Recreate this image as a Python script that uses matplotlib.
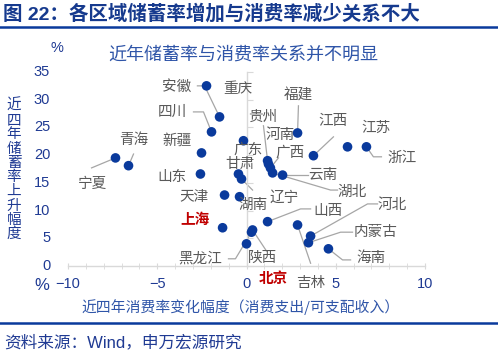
import matplotlib
matplotlib.use('Agg')
import matplotlib.pyplot as plt
import matplotlib.transforms as mtransforms
from matplotlib.lines import Line2D
from matplotlib.ticker import MultipleLocator

plt.rcParams['font.family'] = ['Noto Sans CJK SC', 'DejaVu Sans']

# ---------------- data ----------------
provinces = ['重庆', '安徽', '四川', '新疆', '青海', '宁夏', '山东', '天津', '辽宁', '上海',
             '陕西', '黑龙江', '北京', '广东', '福建', '贵州', '河南', '广西', '湖北', '云南',
             '甘肃', '湖南', '江西', '江苏', '浙江', '山西', '吉林', '河北', '内蒙古', '海南']
consumption_change = [-2.24, -1.51, -1.96, -2.52, -6.61, -7.34, -2.58, -1.23, -0.39, -1.34,
                      0.34, 0.28, 0.00, -0.17, 2.86, 1.18, 1.23, 1.34, 1.46, 2.02,
                      -0.45, -0.28, 3.75, 5.66, 6.72, 1.18, 2.86, 3.59, 3.47, 4.59]
savings_change = [32.5, 26.9, 24.2, 20.4, 18.1, 19.5, 16.6, 12.8, 12.5, 6.9,
                  6.5, 6.1, 4.0, 22.6, 24.0, 19.0, 18.4, 17.7, 16.8, 16.4,
                  16.6, 15.7, 19.9, 21.5, 21.5, 8.0, 7.4, 5.4, 4.2, 3.1]
highlight = ['上海', '北京']

xticks = [-10, -5, 0, 5, 10]
yticks = [0, 5, 10, 15, 20, 25, 30, 35]

title = '图 22：各区域储蓄率增加与消费率减少关系不大'
chart_title = '近年储蓄率与消费率关系并不明显'
xlabel = '近四年消费率变化幅度（消费支出/可支配收入）'
ylabel = '近四年储蓄率上升幅度'
source = '资料来源：Wind，申万宏源研究'

# label placement (data coords) and leader-line elbows
label_pos = {
    '重庆': (-0.50, 32.0), '安徽': (-3.92, 32.3), '四川': (-4.15, 27.8), '新疆': (-3.87, 22.6),
    '青海': (-6.33, 22.8), '宁夏': (-8.63, 14.8), '山东': (-4.15, 16.1), '天津': (-2.97, 12.5),
    '辽宁': (2.13, 12.3), '上海': (-2.86, 8.5), '陕西': (0.90, 1.4), '黑龙江': (-2.58, 1.4),
    '北京': (1.51, -2.2), '广东': (0.11, 21.0), '福建': (2.91, 30.7), '贵州': (0.90, 26.9),
    '河南': (1.90, 23.7), '广西': (2.46, 20.4), '湖北': (5.94, 13.4), '云南': (4.26, 16.4),
    '甘肃': (-0.39, 18.4), '湖南': (0.39, 11.0), '江西': (4.87, 26.2), '江苏': (7.23, 24.9),
    '浙江': (8.74, 19.5), '山西': (4.54, 9.9), '吉林': (3.59, -3.1), '河北': (8.18, 11.0),
    '内蒙古': (7.23, 6.1), '海南': (6.95, 1.4),
}
leaders = {
    '安徽': [(-2.75, 32.5), (-2.35, 32.5)],
    '四川': [(-2.97, 27.8), (-2.41, 27.8)],
    '青海': [(-6.33, 20.2)],
    '宁夏': [(-8.68, 17.7)],
    '福建': [(2.91, 28.9)],
    '江西': [(4.87, 23.3)],
    '浙江': [(7.56, 19.7), (7.11, 19.7)],
    '云南': [(3.42, 16.4)],
    '湖北': [(5.10, 13.7), (4.71, 13.7)],
    '贵州': [(0.95, 25.3)],
    '广西': [(1.79, 19.5)],
    '湖南': [(0.34, 13.7)],
    '山西': [(3.59, 10.3), (3.03, 10.3)],
    '吉林': [(3.59, 0.5)],
    '河北': [(7.34, 11.2), (6.78, 11.2)],
    '内蒙古': [(5.94, 6.1), (5.27, 6.1)],
    '海南': [(5.83, 1.1), (5.38, 1.1)],
    '黑龙江': [(-1.01, 1.3), (-0.62, 1.3)],
    '陕西': [(1.12, 2.7)],
}

# ---------------- styles ----------------
NAVY = '#1f3a93'
BLUE_T = '#2f55a8'
DOT = '#0a3a9c'
GRAY_TXT = '#595959'
GRID = '#d9d9d9'
LEAD = '#a6a6a6'
RED = '#c00000'

W, H = 498, 356
fig = plt.figure(figsize=(W / 100, H / 100), dpi=100)


def fx(px):
    return px / W


def fy(py):
    return 1 - py / H


# header
fig.text(fx(3), fy(14), title, fontsize=14, fontweight='bold', color='#163a8e',
         ha='left', va='center', family=['Liberation Sans', 'Noto Sans CJK SC'])
fig.add_artist(Line2D([0, 1], [fy(27), fy(27)], color='#0a3a9c', lw=1.8))
fig.add_artist(Line2D([0, 1], [fy(323), fy(323)], color='#0a3a9c', lw=1.8))
fig.text(fx(4), fy(342), source, fontsize=12, color=NAVY, ha='left', va='center',
         family=['Liberation Sans', 'Noto Sans CJK SC'])

ax = fig.add_axes([fx(68), fy(266), 357 / W, 194 / H])
ax.set_xlim(-10, 10)
ax.set_ylim(0, 35)
ax.patch.set_alpha(0)

for s in ['top', 'right']:
    ax.spines[s].set_visible(False)
ax.spines['left'].set_position(('data', 0))
for s in ['left', 'bottom']:
    ax.spines[s].set_color(GRID)
    ax.spines[s].set_linewidth(1)

ax.set_xticks(xticks)
ax.xaxis.set_minor_locator(MultipleLocator(1))
ax.tick_params(axis='x', which='both', direction='inout', length=4, color=GRID,
               labelsize=10.5, labelcolor=NAVY, pad=6)
for lab in ax.get_xticklabels():
    lab.set_family(['Liberation Sans'])
ax.set_yticks(yticks)
ax.tick_params(axis='y', which='both', direction='in', length=4, color=GRID, labelleft=False)

trans = mtransforms.blended_transform_factory(ax.transAxes, ax.transData)
for v in yticks:
    ax.text(-0.05, v, str(v), transform=trans, ha='right', va='center', fontsize=10.5,
            color=NAVY, family=['Liberation Sans'])

# leader lines
for name, pts in leaders.items():
    i = provinces.index(name)
    xs = [p[0] for p in pts] + [consumption_change[i]]
    ys = [p[1] for p in pts] + [savings_change[i]]
    ax.plot(xs, ys, color=LEAD, lw=0.9, zorder=2, clip_on=False)

ax.scatter(consumption_change, savings_change, s=48, color=DOT, zorder=3, clip_on=False,
           edgecolors='none')

for name in provinces:
    lx, ly = label_pos[name]
    if name in highlight:
        ax.text(lx, ly, name, color=RED, fontsize=10.5, fontweight='bold',
                ha='center', va='center', zorder=4, clip_on=False)
    else:
        ax.text(lx, ly, name, color=GRAY_TXT, fontsize=10.5,
                ha='center', va='center', zorder=4, clip_on=False)

# titles and axis labels
fig.text(fx(243), fy(55), chart_title, fontsize=13, color=BLUE_T, ha='center', va='center')
fig.text(fx(241), fy(307), xlabel, fontsize=10.7, color=BLUE_T, ha='center', va='center')
fig.text(fx(14), fy(170), '\n'.join(ylabel), fontsize=10.5, color=NAVY, ha='center',
         va='center', linespacing=1.02)
fig.text(fx(57), fy(48), '%', fontsize=10.5, color=NAVY, ha='center', va='center',
         family=['Liberation Sans'])
fig.text(fx(42), fy(285), '%', fontsize=12, color=NAVY, ha='center', va='center',
         family=['Liberation Sans'])

fig.savefig('out.png', dpi=100)
